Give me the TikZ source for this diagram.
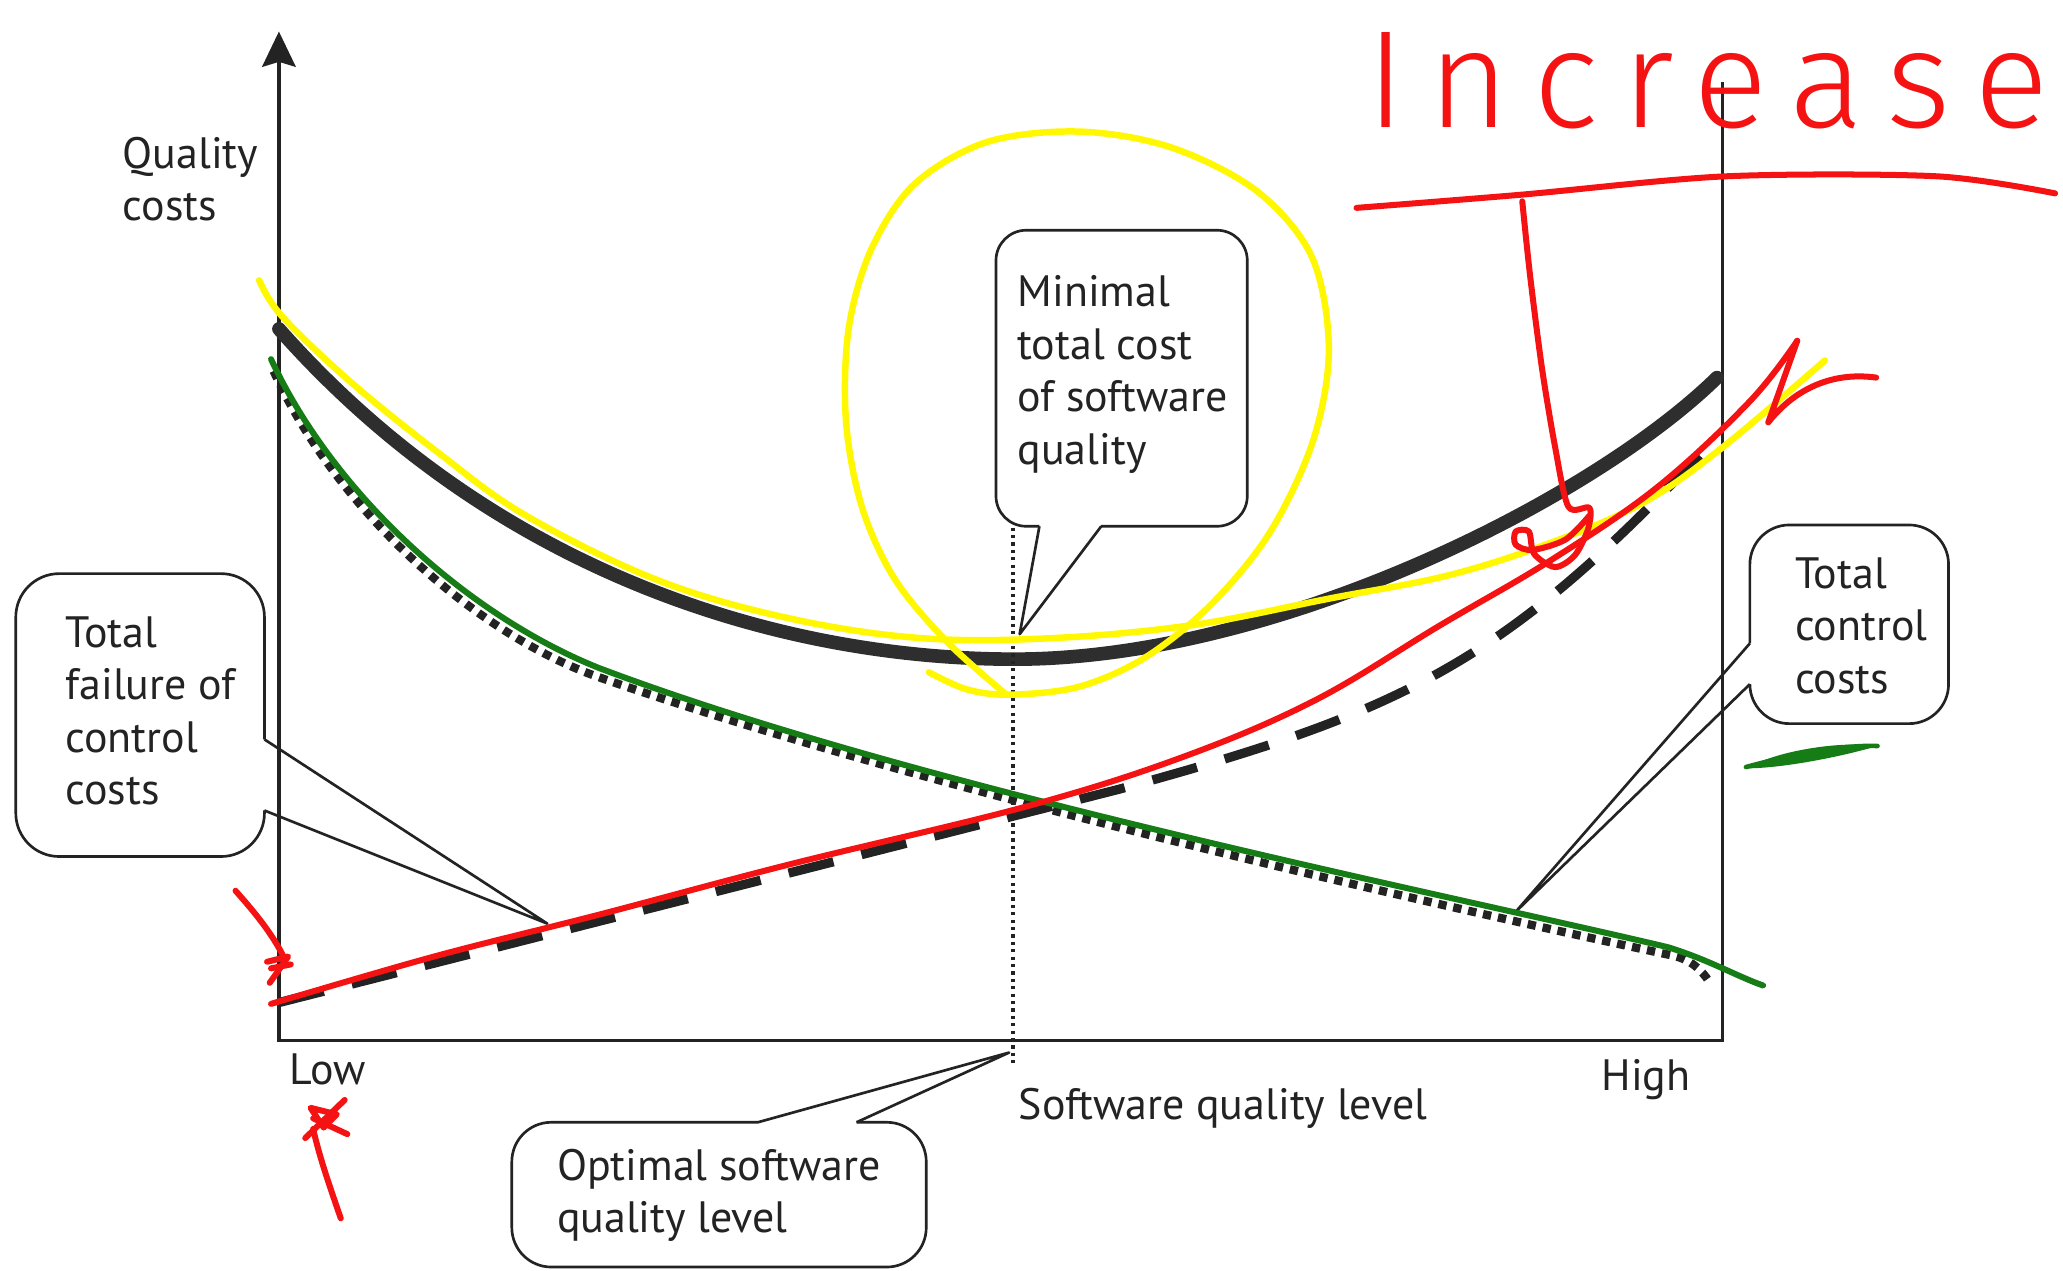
\documentclass[tikz,border=0pt]{standalone}
\usepackage{fontspec}
\setmainfont{PT Sans}
\newfontfamily\handfont{Fira Sans Light}[LetterSpace=17]
\definecolor{ink}{RGB}{35,35,35}
\definecolor{hred}{RGB}{245,18,18}
\definecolor{hyel}{RGB}{255,248,0}
\definecolor{hgreen}{RGB}{22,125,22}
\newcommand\labfont{\fontsize{19}{22.7}\selectfont}
\newcommand\fstrut{\rule{0pt}{0.8em}}
\begin{document}
\begin{tikzpicture}[x=0.02cm,y=-0.02cm,
  ax/.style={line width=1.4pt, draw=ink},
  callout/.style={line width=1.15pt, draw=ink, line join=round},
  lab/.style={font=\labfont, inner sep=0pt, anchor=base west, text=ink},
  mlab/.style={font=\labfont, inner sep=0pt, anchor=north west, align=left, text=ink},
  pen/.style={line width=2.6pt, line cap=round, line join=round},
  tcurve/.style={line width=5.9pt, draw=ink!95, line cap=round},
  sqdots/.style={line width=3.6pt, draw=ink, dash pattern=on 3.6pt off 3pt},
  ldash/.style={line width=4pt, draw=ink, dash pattern=on 20pt off 12.5pt},
]
\useasboundingbox (0,0) rectangle (1568,966);
\fill[white] (0,0) rectangle (1568,966);

% axes
\coordinate (O) at (212,791);
\coordinate (Ytop) at (212,46);
\coordinate (Xend) at (1309,791);
\coordinate (Rtop) at (1309,62);
\draw[ax] (Ytop) -- (O) -- (Xend) -- (Rtop);
\fill[ink] (212,24) -- (225,51) -- (212,47) -- (199,51) -- cycle;

% total cost curve
\coordinate (tc0) at (212,250);
\coordinate (tcm) at (771,501);
\coordinate (tc1) at (1305,287);
\draw[tcurve] (tc0) .. controls (380,440) and (600,501) .. (tcm) .. controls (970,501) and (1210,380) .. (tc1);
% failure cost curve (square dots)
\coordinate (fc0) at (208,282);
\coordinate (fcm) at (456,515);
\coordinate (fc1) at (1270,726);
\coordinate (fc2) at (1299,746);
\draw[sqdots] (fc0) .. controls (258,392) and (366,484) .. (fcm) .. controls (700,600) and (1100,690) .. (fc1) .. controls (1285,729) and (1293,737) .. (fc2);
% control cost curve (dashed)
\coordinate (cc0) at (212,762);
\coordinate (ccm) at (850,600);
\coordinate (cc1) at (1302,335);
\draw[ldash] (cc0) -- (ccm) .. controls (1070,540) and (1145,503) .. (cc1);

% optimal level
\coordinate (vtop) at (770,401);
\coordinate (vbot) at (770,811);
\draw[line width=1.4pt, draw=ink, dash pattern=on 1.4pt off 1.8pt] (vtop) -- (vbot);

% callouts
\draw[callout, rounded corners=0.46cm] (837,400) -- (948,400) -- (948,175) -- (757,175) -- (757,400) -- (790,400);
\draw[callout] (790,400) -- (775,482) -- (837,400);

\draw[callout, rounded corners=0.66cm] (201,616) -- (201,651) -- (12,651) -- (12,436) -- (201,436) -- (201,562);
\draw[callout] (201,562) -- (416,702) -- (201,616);

\draw[callout, rounded corners=0.6cm] (1330,489) -- (1330,399) -- (1481,399) -- (1481,550) -- (1330,550) -- (1330,520);
\draw[callout] (1330,489) -- (1152,693) -- (1330,520);

\draw[callout, rounded corners=0.6cm] (651,853) -- (704,853) -- (704,963) -- (389,963) -- (389,853) -- (576,853);
\draw[callout] (576,853) -- (767,800) -- (651,853);

% texts
\node[mlab] (qc) at (93,101) {\fstrut Quality\\costs};
\node[lab] (low) at (220,824) {Low};
\node[lab] (high) at (1217,829) {High};
\node[lab] (sql) at (774,851) {Software quality level};
\node[mlab] (opt) at (423,870) {\fstrut Optimal software\\quality level};
\node[mlab] (fail) at (49.5,465) {\fstrut Total\\failure of\\control\\costs};
\node[mlab] (minc) at (773,206) {\fstrut Minimal\\total cost\\of software\\quality};
\node[mlab] (ctrl) at (1364,420) {\fstrut Total\\control\\costs};

% --- hand annotations ---
% yellow
\draw[pen, hyel, line width=2.8pt] plot[smooth, tension=0.6] coordinates {(197,213) (214,240) (265,289) (333,344) (400,392) (500,441) (600,470) (700,485) (800,485) (907,475) (1010,455) (1102,437) (1180,412) (1249,382) (1308,341) (1387,274)};
\draw[pen, hyel, line width=2.8pt] plot[smooth, tension=0.55] coordinates {(706,511) (735,524) (768,528) (820,522) (870,500) (920,460) (965,405) (998,335) (1010,265) (997,195) (955,145) (890,112) (820,100) (750,108) (695,140) (662,190) (645,250) (643,320) (655,385) (680,440) (720,488) (765,528)};
% green
\coordinate (gc0) at (206,273);
\coordinate (gcm) at (456,508);
\coordinate (gc1) at (1268,720);
\coordinate (gc2) at (1340,749);
\draw[pen, hgreen] (gc0) .. controls (256,380) and (360,470) .. (gcm) .. controls (700,600) and (1100,680) .. (gc1) .. controls (1300,730) and (1320,742) .. (gc2);
\fill[hgreen] (1327,584) .. controls (1352,570) and (1400,563) .. (1427,567) .. controls (1400,575) and (1355,584) .. (1327,584) -- cycle;
\draw[hgreen, line width=2pt, line cap=round] (1327,583) .. controls (1360,574) and (1400,566) .. (1427,567);
% red
\draw[pen, hred] plot[smooth, tension=0.6] coordinates {(206,763) (330,727) (456,695) (600,657) (780,613) (900,575) (1000,532) (1095,475) (1180,425) (1260,370) (1330,305) (1366,259)};
\draw[pen, hred] (1366,259) -- (1344,321) .. controls (1362,298) and (1390,282) .. (1426,287);
\draw[pen, hred] plot[smooth, tension=0.5] coordinates {(1031,158) (1156,148) (1312,134) (1472,134) (1562,147)};
\draw[pen, hred] plot[smooth, tension=0.5] coordinates {(1157,153) (1163,210) (1172,280) (1182,340) (1192,385) (1208,386) (1207,402) (1197,422) (1182,431) (1166,421) (1162,404) (1152,404) (1152,414) (1165,418) (1190,410) (1208,392)};
\draw[pen, hred] (179,677) .. controls (195,695) and (207,710) .. (216,728);
\draw[pen, hred] (203,731) -- (219,727) -- (210,740) -- (205,747);
\draw[pen, hred] (206,736) -- (221,733);
\draw[pen, hred] (259,926) .. controls (250,900) and (243,880) .. (238,858);
\draw[pen, hred] (232,865) -- (262,836);
\draw[pen, hred] (238,850) -- (264,862);
\draw[pen, hred] (236,842) -- (256,847) -- (246,857) -- cycle;
\node[font={\fontsize{60}{64}\handfont}, text=hred, anchor=base west, inner sep=0pt] (inc) at (1038,97) {Increase};
\end{tikzpicture}
\end{document}
